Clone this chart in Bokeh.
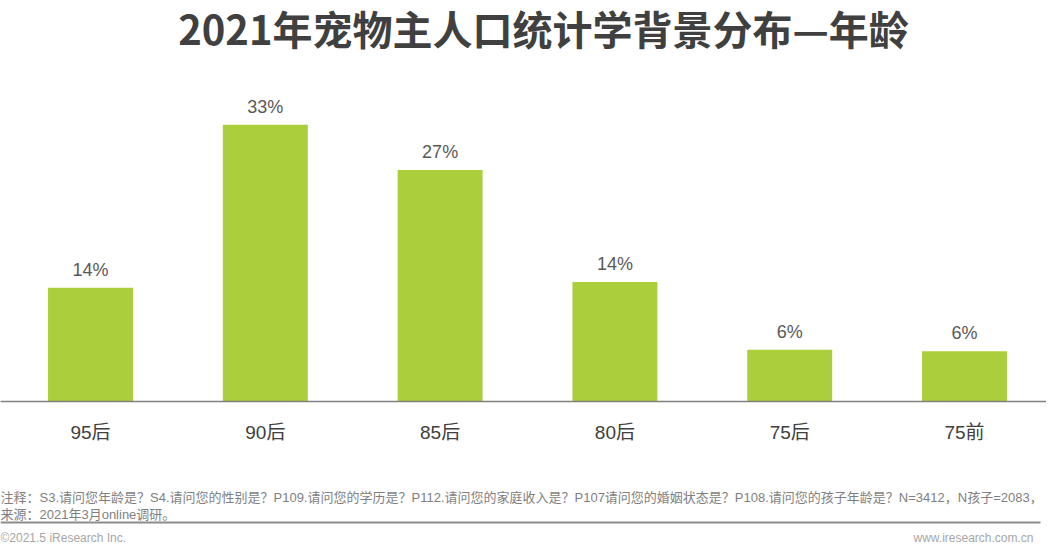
from bokeh.plotting import figure
from bokeh.layouts import column
from bokeh.models import Range1d, FixedTicker, Label, ColumnDataSource
from bokeh.core.properties import value
from bokeh.embed import file_html
from bokeh.resources import INLINE

# ---- data ----
categories = ["95后", "90后", "85后", "80后", "75后", "75前"]
shares = [13.6, 33.1, 27.7, 14.3, 6.2, 6.0]
share_labels = ["14%", "33%", "27%", "14%", "6%", "6%"]
title_text = "2021年宠物主人口统计学背景分布—年龄"
note_text = ("注释：S3.请问您年龄是？S4.请问您的性别是？P109.请问您的学历是？P112.请问您的家庭收入是？"
             "P107请问您的婚姻状态是？P108.请问您的孩子年龄是？N=3412，N孩子=2083，")
source_text = "来源：2021年3月online调研。"
copyright_text = "©2021.5 iResearch Inc."
site_text = "www.iresearch.com.cn"

W = 1046
H_MAIN = 480
H_FOOT = 69
CJK = "Liberation Sans, Noto Sans CJK SC"

xs = list(range(len(categories)))
src = ColumnDataSource(dict(x=xs, top=shares, lab=share_labels))

p = figure(width=W, height=H_MAIN, output_backend="svg", toolbar_location=None,
           x_range=Range1d(-0.515, 5.469), y_range=Range1d(0, 47.97),
           y_axis_location=None, min_border_left=0, min_border_right=0,
           min_border_top=0, min_border_bottom=H_MAIN - 401)
p.outline_line_color = None
p.xgrid.visible = False
p.ygrid.visible = False
p.background_fill_color = "white"
p.border_fill_color = "white"

p.vbar(x="x", top="top", bottom=0, width=0.486, source=src,
       fill_color="#abcf3a", line_color=None)
p.text(x="x", y="top", text="lab", source=src, y_offset=-18,
       text_align="center", text_baseline="middle",
       text_font=value("Liberation Sans"), text_font_size="18px", text_color="#595959")

ax = p.xaxis[0]
ax.ticker = FixedTicker(ticks=xs)
ax.major_label_overrides = {i: c for i, c in zip(xs, categories)}
ax.axis_line_color = "#808080"
ax.axis_line_width = 1.5
ax.major_tick_line_color = None
ax.minor_tick_line_color = None
ax.major_label_standoff = 14
ax.major_label_text_font = CJK
ax.major_label_text_font_size = "19px"
ax.major_label_text_color = "#404040"

p.add_layout(Label(x=543, y=401 - 27, x_units="screen", y_units="screen",
                   text=title_text, text_align="center", text_baseline="middle",
                   text_font="Noto Sans CJK SC", text_font_size="40px",
                   text_font_style="bold", text_color="#404040"))

# ---- footer ----
f = figure(width=W, height=H_FOOT, output_backend="svg", toolbar_location=None,
           x_range=Range1d(0, W), y_range=Range1d(H_FOOT, 0),
           x_axis_location=None, y_axis_location=None,
           min_border_left=0, min_border_right=0, min_border_top=0, min_border_bottom=0)
f.outline_line_color = None
f.xgrid.visible = False
f.ygrid.visible = False
f.background_fill_color = "white"
f.border_fill_color = "white"

def flab(text, x, y, size, color, align="left", font=CJK):
    f.add_layout(Label(x=x, y=y, text=text, text_align=align, text_baseline="middle",
                       text_font=font, text_font_size=size, text_color=color))

flab(note_text, 0, 17, "13px", "#7f7f7f")
flab(source_text, 0, 34, "13px", "#7f7f7f")
flab(copyright_text, 0, 57, "12px", "#a6a6a6", font="Liberation Sans")
flab(site_text, 1033, 57, "12px", "#a6a6a6", align="right", font="Liberation Sans")
f.segment(x0=[0], y0=[42], x1=[1040], y1=[42], line_color="#8c8c8c", line_width=2)

open("out.html", "w").write(file_html(column(p, f, spacing=0), INLINE))
